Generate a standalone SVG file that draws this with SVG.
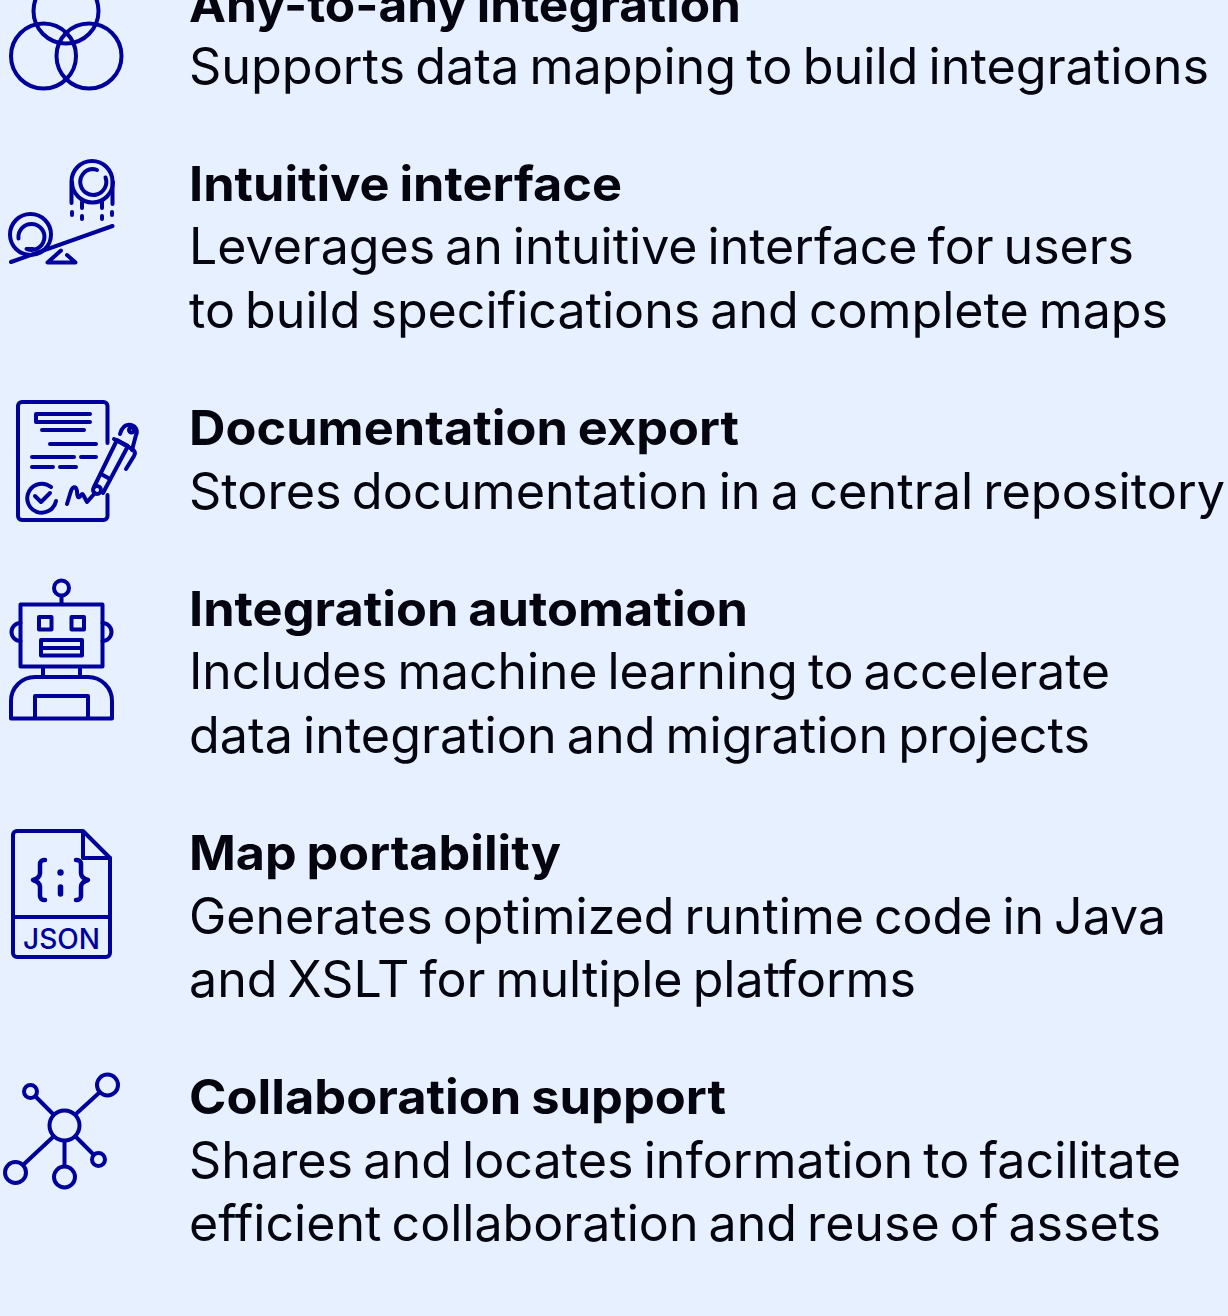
<svg xmlns="http://www.w3.org/2000/svg" width="1228" height="1316" viewBox="0 0 1228 1316">
<style>
.bg{fill:#e6f0ff}
.t{font-family:"Inter","Liberation Sans",sans-serif;font-size:48px;font-weight:700;fill:#050510;word-spacing:-2px}
.b{font-family:"Inter","Liberation Sans",sans-serif;font-size:50px;font-weight:400;fill:#050510;word-spacing:-4px}
.i{fill:none;stroke:#00009a;stroke-width:4;stroke-linecap:round;stroke-linejoin:round}
.f{font-family:"Inter","Liberation Sans",sans-serif;font-size:28px;font-weight:500;fill:#00009a}
</style>
<rect class="bg" width="1228" height="1316"/>
<g id="any-to-any">
<g class="i"><circle cx="66" cy="11" r="32.5"/><circle cx="43.500" cy="56" r="32.500"/><circle cx="89" cy="56" r="32.500"/></g>
<text class="t" x="189" y="21.500" textLength="552" lengthAdjust="spacingAndGlyphs">Any-to-any integration</text>
<text class="b" x="189" y="83.500" textLength="1020" lengthAdjust="spacingAndGlyphs">Supports data mapping to build integrations</text>
</g>
<g id="intuitive-interface">
<g class="i">
<path d="M71.500 203V181.500a20.500 20.500 0 1 1 41 0V204"/>
<path d="M72 182a20.500 20.500 0 0 0 41 0"/>
<path d="M97 170a14.500 14.500 0 0 0-5-1a13 13 0 1 0 13.500 8.500"/>
<path d="M82 202V208M102 202V208M72 212V215M82 216V219M102 216V219M112 212V215"/>
<circle cx="30.500" cy="234.500" r="20.500"/>
<path d="M18.500 238.500a13 13 0 1 1 8 10.500H33"/>
<path d="M11 262L112.500 226"/>
<path d="M61 250.500L47.500 262.500H75.500L67 255"/>
</g>
<text class="t" x="189" y="200.500" textLength="433" lengthAdjust="spacingAndGlyphs">Intuitive interface</text>
<text class="b" x="189" y="263.500" textLength="945" lengthAdjust="spacingAndGlyphs">Leverages an intuitive interface for users</text>
<text class="b" x="189" y="327.500" textLength="979" lengthAdjust="spacingAndGlyphs">to build specifications and complete maps</text>
</g>
<g id="documentation-export">
<g class="i">
<path d="M107.500 443V406a4 4 0 0 0-4-4H22a4 4 0 0 0-4 4V516a4 4 0 0 0 4 4H103.500a4 4 0 0 0 4-4V495"/>
<path d="M90 414H36V422H90"/>
<path d="M42 430H84M50 444H96M32 457H74M81 457H96M32 467H53M60 467H76"/>
<path d="M51 487a14.500 14.500 0 1 0 5 14"/>
<path d="M35 496L41 502L50 493"/>
<path d="M67 504L71 491C73 486 76 486 77 491C77 496 78 500 81 495C83 492 84 497 87 502L95 493"/>
<path d="M94 487L117 440L128 446L103 493"/>
<circle cx="97" cy="490" r="4"/>
<path d="M101 474L110 479"/>
<path d="M120 434C122 427 126 424 131 425C136 426 138 431 136 435L132 450"/>
<path d="M114 439L132 449"/>
<path d="M132 449C135 451 136 453 134 456L126 469"/>
<circle cx="131.500" cy="430" r="2.500"/>
</g>
<text class="t" x="189" y="444.500" textLength="550" lengthAdjust="spacingAndGlyphs">Documentation export</text>
<text class="b" x="189" y="508.500" textLength="1036" lengthAdjust="spacingAndGlyphs">Stores documentation in a central repository</text>
</g>
<g id="integration-automation">
<g class="i">
<circle cx="61.500" cy="588" r="7.500"/>
<path d="M61.500 596V604"/>
<rect x="20.500" y="604.500" width="82" height="62"/>
<rect x="39" y="617" width="12.500" height="12.500"/>
<rect x="71.500" y="617" width="12.500" height="12.500"/>
<rect x="41" y="640" width="41" height="15.500"/>
<path d="M41 648H82"/>
<path d="M20.500 623a9 9 0 0 0 0 18M102.500 623a9 9 0 0 1 0 18"/>
<path d="M43 667V677M80 667V677"/>
<path d="M11 718.500V701a24 24 0 0 1 24-24H88a24 24 0 0 1 24 24V718.500Z"/>
<path d="M35 718V696H88V718"/>
</g>
<text class="t" x="189" y="625.500" textLength="559" lengthAdjust="spacingAndGlyphs">Integration automation</text>
<text class="b" x="189" y="688.500" textLength="921" lengthAdjust="spacingAndGlyphs">Includes machine learning to accelerate</text>
<text class="b" x="189" y="752.500" textLength="901" lengthAdjust="spacingAndGlyphs">data integration and migration projects</text>
</g>
<g id="map-portability">
<g class="i">
<path d="M83 831H17a4 4 0 0 0-4 4V953a4 4 0 0 0 4 4H106a4 4 0 0 0 4-4V858Z"/>
<path d="M83 832V858H110"/>
<path d="M14 917H109"/>
<path d="M45 860H44a4 4 0 0 0-4 4V873q0 5-7 7q7 2 7 7V896a4 4 0 0 0 4 4H45" stroke-width="4.500"/>
<path d="M76 860H77a4 4 0 0 1 4 4V873q0 5 7 7q-7 2-7 7V896a4 4 0 0 1-4 4H76" stroke-width="4.500"/>
<path d="M60.500 887V894" stroke-width="5.500"/>
</g>
<circle cx="60.500" cy="872.500" r="3.200" fill="#00009a"/>
<text class="f" x="23" y="948.500" textLength="77" lengthAdjust="spacingAndGlyphs">JSON</text>
<text class="t" x="189" y="869.500" textLength="372" lengthAdjust="spacingAndGlyphs">Map portability</text>
<text class="b" x="189" y="933.500" textLength="977" lengthAdjust="spacingAndGlyphs">Generates optimized runtime code in Java</text>
<text class="b" x="189" y="996.500" textLength="727" lengthAdjust="spacingAndGlyphs">and XSLT for multiple platforms</text>
</g>
<g id="collaboration-support">
<g class="i">
<circle cx="64.500" cy="1125.500" r="15"/>
<circle cx="107.500" cy="1085" r="10.500"/>
<circle cx="30.500" cy="1091.500" r="6.500"/>
<circle cx="15.500" cy="1172.500" r="10.500"/>
<circle cx="64.500" cy="1177" r="10.500"/>
<circle cx="98.500" cy="1159.500" r="6.500"/>
<path d="M77 1113L100 1092M53 1114L36 1097M53 1137L23 1165M64.500 1141V1166M76 1137L93 1154"/>
</g>
<text class="t" x="189" y="1113.500" textLength="537" lengthAdjust="spacingAndGlyphs">Collaboration support</text>
<text class="b" x="189" y="1177.500" textLength="992" lengthAdjust="spacingAndGlyphs">Shares and locates information to facilitate</text>
<text class="b" x="189" y="1240.500" textLength="972" lengthAdjust="spacingAndGlyphs">efficient collaboration and reuse of assets</text>
</g>
</svg>
